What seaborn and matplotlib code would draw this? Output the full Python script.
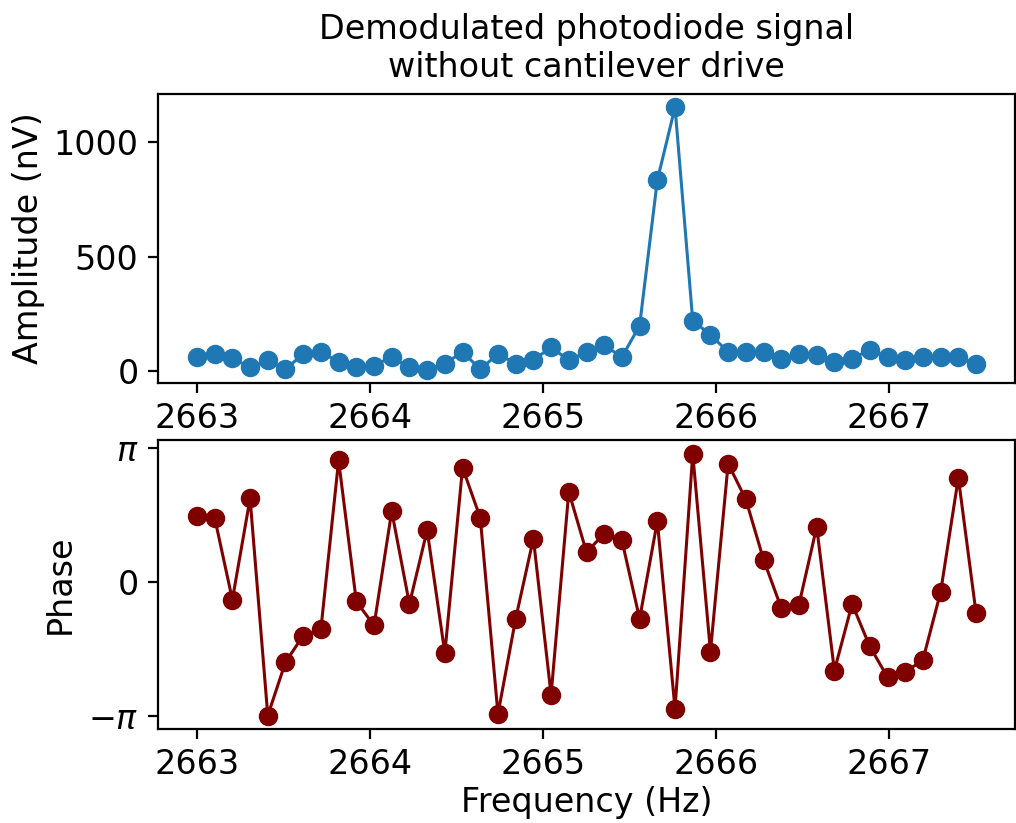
import numpy as np
import pandas as pd
import matplotlib
matplotlib.use('Agg')
import matplotlib.pyplot as plt
import seaborn as sns

# frequency sweep, 45 points from 2663 to 2667.5 Hz
freq = np.linspace(2663.0, 2667.5, 45)

# amplitude (nV)
amp = [63, 77, 57, 18, 48, 10, 76, 85, 41, 18,
       26, 63, 18, 7, 34, 85, 10, 76, 34, 48,
       107, 48, 85, 114, 63, 200, 835, 1154, 222, 160,
       85, 85, 85, 56, 77, 70, 41, 56, 95, 63,
       48, 63, 63, 63, 34]

# phase in units of pi
phase_pi = [0.49, 0.478, -0.132, 0.622, -0.995, -0.597, -0.40, -0.351, 0.905, -0.145,
            -0.324, 0.527, -0.164, 0.385, -0.530, 0.851, 0.478, -0.983, -0.274, 0.323,
            -0.841, 0.672, 0.221, 0.360, 0.310, -0.274, 0.452, -0.946, 0.955, -0.518,
            0.881, 0.614, 0.166, -0.194, -0.169, 0.410, -0.660, -0.164, -0.480, -0.709,
            -0.672, -0.580, -0.075, 0.776, -0.231]

df = pd.DataFrame({'freq': freq, 'amp': amp, 'phase': np.array(phase_pi) * np.pi})

plt.rcParams['font.family'] = ['DejaVu Sans']
plt.rcParams['font.size'] = 12

fig = plt.figure(figsize=(1016 / 200, 823 / 200), dpi=200)
ax1 = fig.add_axes([158 / 1016, 1 - 383 / 823, 857 / 1016, 289 / 823])
ax2 = fig.add_axes([158 / 1016, 1 - 729 / 823, 857 / 1016, 289 / 823])

blue = '#1f77b4'
red = '#800000'

sns.lineplot(data=df, x='freq', y='amp', ax=ax1, color=blue, marker='o',
             markersize=6, markeredgecolor=blue, markeredgewidth=1, linewidth=1.1)
sns.lineplot(data=df, x='freq', y='phase', ax=ax2, color=red, marker='o',
             markersize=6, markeredgecolor=red, markeredgewidth=1, linewidth=1.1)

xticks = [2663, 2664, 2665, 2666, 2667]
for ax in (ax1, ax2):
    ax.set_xticks(xticks)
    ax.set_xticklabels([str(t) for t in xticks])
    ax.set_xlim(2662.775, 2667.725)

ax1.set_yticks([0, 500, 1000])
ax1.set_xlabel('')
ax1.set_ylabel('Amplitude (nV)', labelpad=3)
ax1.set_title('Demodulated photodiode signal\nwithout cantilever drive', fontsize=12)

ax2.set_yticks([-np.pi, 0, np.pi])
ax2.set_yticklabels([r'$-\pi$', '0', r'$\pi$'])
ax2.set_ylim(-1.095 * np.pi, 1.057 * np.pi)
ax2.set_xlabel('Frequency (Hz)', labelpad=1.5)
ax2.set_ylabel('Phase')

fig.savefig('out.png', dpi=200)
